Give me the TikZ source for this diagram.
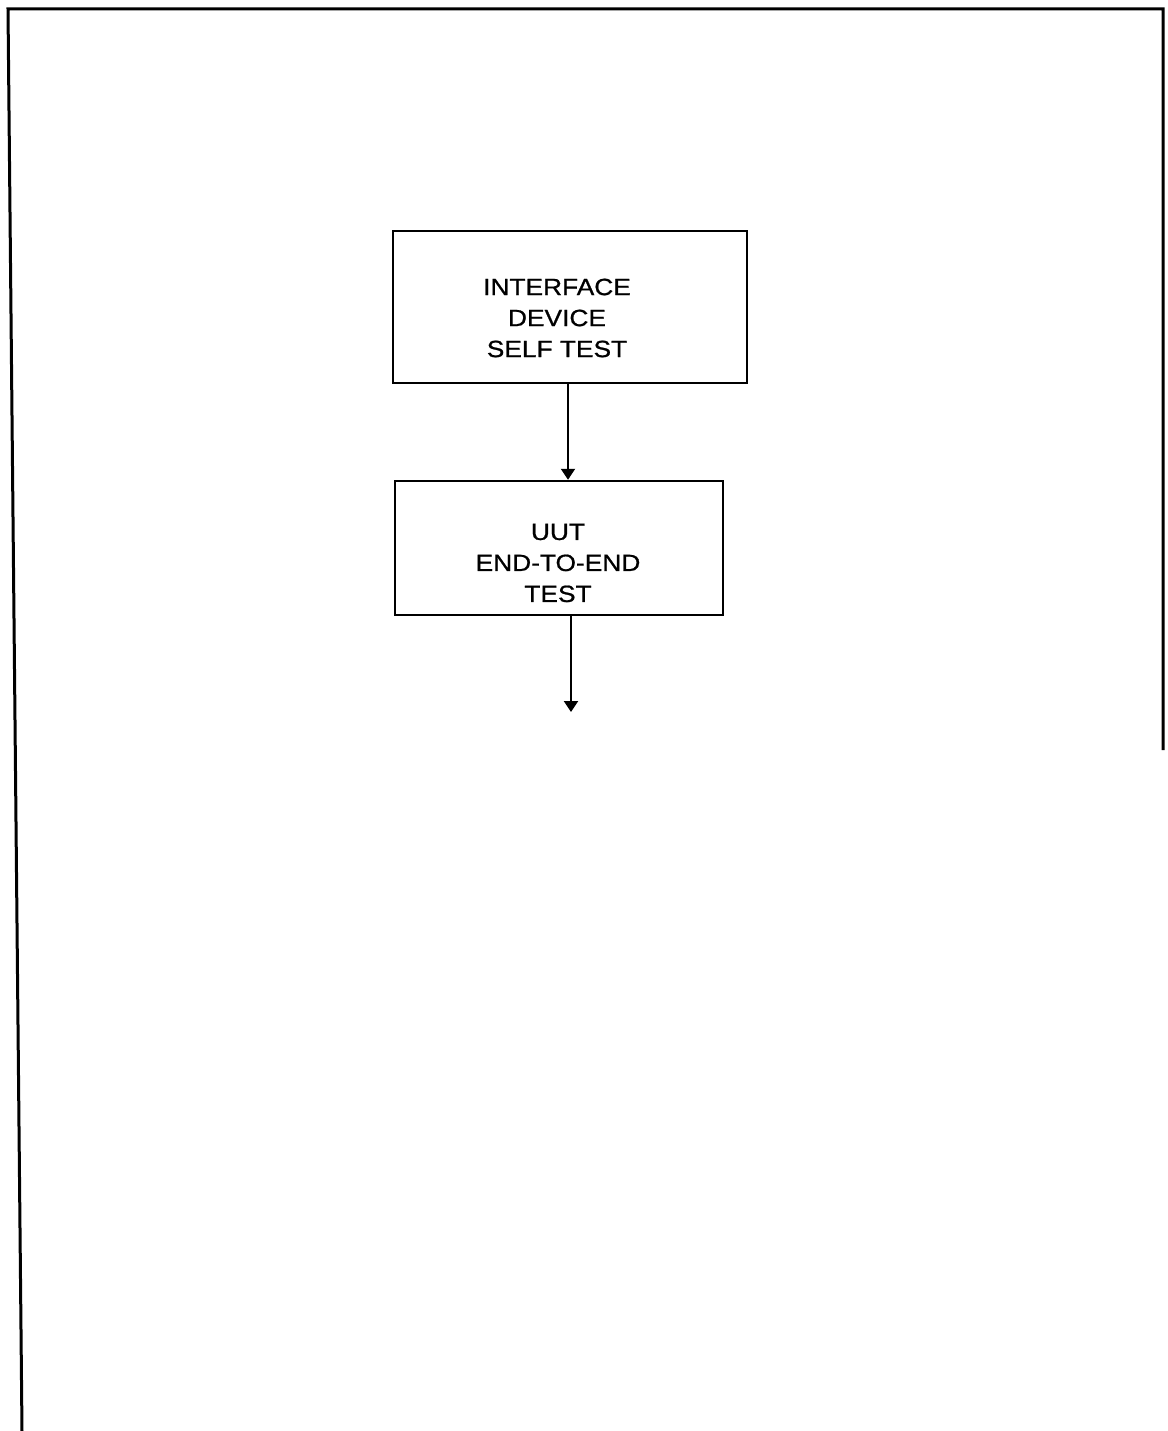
\documentclass[tikz,border=0pt]{standalone}
\usepackage{fontspec}
\newfontfamily\labelfont[FakeStretch=1.12,FakeBold=0.8]{Liberation Sans}
\usetikzlibrary{arrows.meta}
\begin{document}
\begin{tikzpicture}[x=1pt,y=-1pt,
  framestyle/.style={line width=3pt},
  stepbox/.style={draw,line width=2.4pt,inner sep=0pt},
  boxtext/.style={font=\labelfont\fontsize{23.5}{31}\selectfont,align=center,inner sep=0pt},
  flow/.style={line width=2pt,-{Triangle[width=14pt,length=11pt]}}]
\useasboundingbox (0,0) rectangle (1167,1431);
% outer frame (three sides)
\coordinate (fbl) at (22,1431);
\coordinate (ftl) at (8,9);
\coordinate (ftr) at (1163,9);
\coordinate (fbr) at (1163,750);
\draw[framestyle] (fbl) -- (ftl) -- (ftr) -- (fbr);
% boxes
\node[stepbox,minimum width=354pt,minimum height=152pt] (b1) at (570,307) {};
\node[stepbox,minimum width=328pt,minimum height=134pt] (b2) at (559,548) {};
\node[boxtext] (t1) at (557,318) {INTERFACE\\DEVICE\\SELF TEST};
\node[boxtext] (t2) at (558,563) {UUT\\END-TO-END\\TEST};
% connectors
\coordinate (a1) at (568,383);
\coordinate (a2) at (571,615);
\coordinate (end) at (571,712);
\draw[flow] (a1) -- (a1 |- b2.north);
\draw[flow] (a2) -- (end);
\end{tikzpicture}
\end{document}
